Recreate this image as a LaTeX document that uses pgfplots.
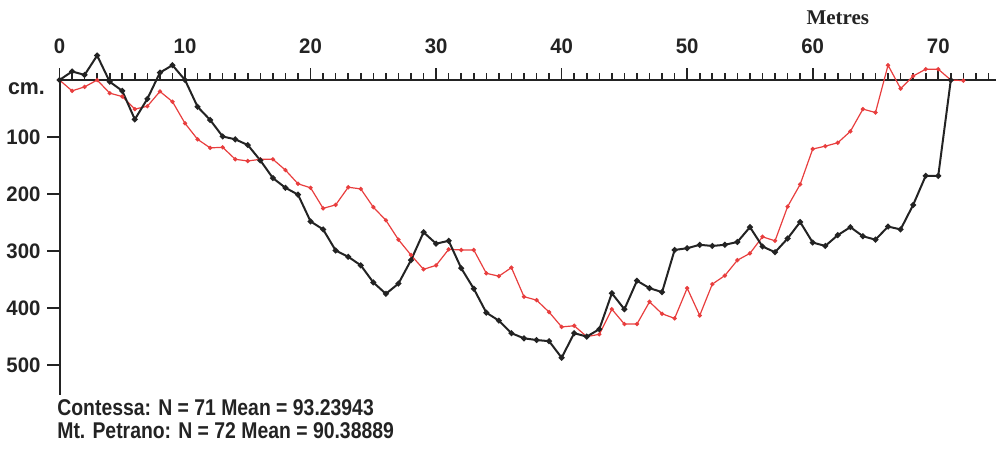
\documentclass[border=0pt]{standalone}
\usepackage{pgfplots}
\pgfplotsset{compat=1.18}
\usepackage{pgfplotstable}
\usepackage{fontspec}
\setmainfont{Liberation Sans}
\newfontfamily\cond[FakeStretch=0.85]{Liberation Sans}
\newfontfamily\tickf[FakeStretch=0.97]{Liberation Sans}
\newfontfamily\serifb{Liberation Serif}
\definecolor{redline}{RGB}{232,62,62}
\definecolor{blackline}{RGB}{35,35,35}

\pgfplotstableread{
m d
0 0
1 -15
2 -9
3 -43
4 3
5 19
6 69
7 33
8 -13
9 -26
10 0
11 47
12 70
13 99
14 104
15 114
16 141
17 172
18 189
19 201
20 248
21 262
22 299
23 310
24 325
25 355
26 375
27 357
28 316
29 267
30 287
31 282
32 330
33 366
34 408
35 422
36 444
37 453
38 456
39 458
40 487
41 444
42 450
43 437
44 374
45 402
46 352
47 365
48 372
49 298
50 295
51 289
52 291
53 289
54 284
55 258
56 292
57 302
58 278
59 249
60 285
61 291
62 272
63 258
64 274
65 280
66 257
67 262
68 219
69 168
70 168
71 0
}\contessa

\pgfplotstableread{
m d
0 0
1 19
2 12
3 0
4 23
5 29
6 51
7 46
8 20
9 38
10 76
11 104
12 119
13 118
14 139
15 142
16 139
17 139
18 158
19 182
20 189
21 225
22 219
23 188
24 191
25 223
26 246
27 280
28 307
29 332
30 325
31 297
32 298
33 298
34 339
35 344
36 329
37 380
38 386
39 407
40 433
41 431
42 450
43 446
44 402
45 428
46 428
47 389
48 410
49 418
50 365
51 413
52 358
53 343
54 316
55 304
56 275
57 282
58 222
59 183
60 121
61 116
62 110
63 90
64 51
65 57
66 -26
67 15
68 -7
69 -19
70 -19
71 0
72 1
}\petrano

\begin{document}
\begin{tikzpicture}
\begin{axis}[
  scale only axis, width=468.1pt, height=157.6pt,
  xmin=0, xmax=74.6, ymin=0, ymax=553, y dir=reverse,
  axis x line=middle, axis y line=left,
  axis line style={-, line width=1pt, color=blackline},
  clip=false,
  hide obscured x ticks=false,
  /pgf/number format/assume math mode=true,
  xtick={0,10,...,70}, minor xtick={1,...,74},
  ytick={100,200,300,400,500},
  xtick align=outside, ytick align=outside,
  major tick length=6pt, minor tick length=3.5pt,
  every tick/.style={line width=0.8pt, color=blackline},
  tick label style={font=\tickf\bfseries\fontsize{10.5}{11}\selectfont, color=blackline},
  xticklabel style={anchor=south, yshift=15.5pt},
  yticklabel style={anchor=east},
]
\addplot[color=redline, line width=0.6pt, mark=*, mark size=0.75pt, mark options={fill=redline, draw=redline}] table[x=m, y=d] {\petrano};
\addplot[color=blackline, line width=1pt, mark=*, mark size=0.9pt, mark options={fill=blackline, draw=blackline}] table[x=m, y=d] {\contessa};
\node[font=\tickf\bfseries\fontsize{11}{12}\selectfont, color=blackline] at (axis cs:-2.63,15.8) {cm.};
\node[font=\serifb\bfseries\fontsize{10.5}{12}\selectfont, color=blackline] at (axis cs:62.0,-108.8) {Metres};
\node[anchor=north west, inner sep=0pt, align=left, font=\cond\bfseries\fontsize{11.4}{11.6}\selectfont, color=blackline] at (axis cs:-0.2,560) {Contessa: N = 71 Mean = 93.23943\\Mt. Petrano: N = 72 Mean = 90.38889};
\coordinate (bl) at (axis cs:-4.74,652.6);
\coordinate (tr) at (axis cs:74.6,-140.35);
\end{axis}
\pgfresetboundingbox
\path[use as bounding box] (bl) rectangle (tr);
\end{tikzpicture}
\end{document}
